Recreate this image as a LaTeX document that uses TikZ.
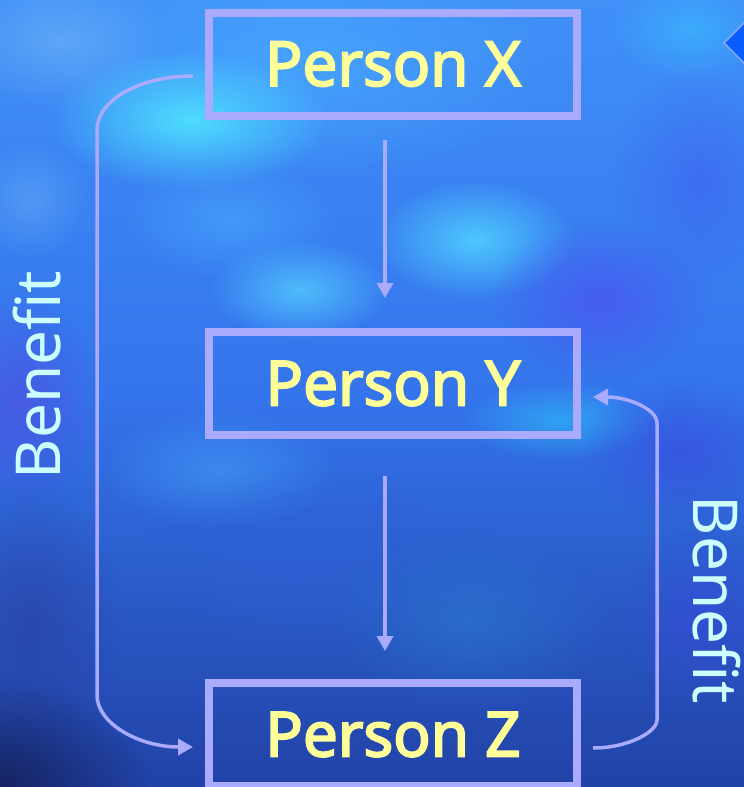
\documentclass[tikz,border=0pt]{standalone}
\usepackage{fontspec}
\setmainfont{Noto Sans}
\newfontfamily\boxfont{Noto Sans}[FakeBold=3]
\usetikzlibrary{arrows.meta,fadings}

\definecolor{lav}{HTML}{AAAAFF}
\definecolor{boxyellow}{HTML}{FFFF99}
\definecolor{labelcyan}{HTML}{CCFFFF}
\definecolor{skytop}{HTML}{4090F8}
\definecolor{skymid}{HTML}{3474EC}
\definecolor{skybot}{HTML}{2142A6}
\definecolor{cyanA}{HTML}{4FE5FF}
\definecolor{blueA}{HTML}{6AB0F8}
\definecolor{cyanB}{HTML}{50D0FF}
\definecolor{cyanC}{HTML}{55CCFF}
\definecolor{violetA}{HTML}{4C50F0}
\definecolor{violetB}{HTML}{5050E0}
\definecolor{blueB}{HTML}{3F60F0}
\definecolor{cyanD}{HTML}{30B8F8}
\definecolor{blueC}{HTML}{3A48E0}
\definecolor{blueD}{HTML}{3060D8}
\definecolor{blueE}{HTML}{2A78D0}
\definecolor{navyA}{HTML}{2A3FA0}
\definecolor{navyB}{HTML}{15205A}
\definecolor{cyanE}{HTML}{3AB8FF}
\definecolor{skyF}{HTML}{48A8FF}
\definecolor{ornline}{HTML}{7FA8FF}
\definecolor{ornfill}{HTML}{0A5CFF}

\tikzfading[name=softglow, inner color=transparent!0, outer color=transparent!100]

\begin{document}
\begin{tikzpicture}[x=1pt,y=-1pt,
  person/.style={draw=lav, line width=8pt, minimum width=368pt,
    minimum height=103pt, inner sep=0pt, text=boxyellow,
    font=\boxfont\fontsize{62}{62}\selectfont},
  flow/.style={draw=lav, line width=3.5pt,
    -{Triangle[width=16pt,length=15pt]}},
  benefit/.style={text=labelcyan, inner sep=0pt, anchor=base,
    font=\fontsize{62}{62}\selectfont},
  glow/.style={fill=#1, path fading=softglow}
]
\useasboundingbox (0,0) rectangle (744,787);

% sky background
\fill[top color=skytop, bottom color=skybot, middle color=skymid]
  (0,0) rectangle (744,787);
\fill[glow=skyF, opacity=0.8] (300,60) ellipse (260 and 120);
\fill[glow=cyanA, opacity=0.9] (190,120) ellipse (140 and 70);
\fill[glow=blueA, opacity=0.7] (60,40) ellipse (110 and 70);
\fill[glow=blueA, opacity=0.5] (30,200) ellipse (60 and 60);
\fill[glow=cyanB, opacity=0.9] (475,240) ellipse (100 and 60);
\fill[glow=cyanC, opacity=0.8] (300,290) ellipse (90 and 50);
\fill[glow=skyF, opacity=0.6] (230,220) ellipse (110 and 60);
\fill[glow=violetA, opacity=0.7] (600,300) ellipse (110 and 80);
\fill[glow=violetB, opacity=0.7] (20,400) ellipse (80 and 110);
\fill[glow=blueB, opacity=0.6] (700,180) ellipse (90 and 110);
\fill[glow=cyanD, opacity=0.7] (560,420) ellipse (100 and 40);
\fill[glow=skyF, opacity=0.5] (220,470) ellipse (120 and 60);
\fill[glow=blueC, opacity=0.6] (680,450) ellipse (100 and 70);
\fill[glow=blueD, opacity=0.5] (300,560) ellipse (160 and 90);
\fill[glow=blueE, opacity=0.6] (470,620) ellipse (140 and 90);
\fill[glow=blueC, opacity=0.5] (700,620) ellipse (80 and 90);
\fill[glow=navyA, opacity=0.6] (30,620) ellipse (90 and 140);
\fill[glow=navyB, opacity=0.9] (0,787) ellipse (150 and 110);
\fill[glow=cyanE, opacity=0.7] (690,30) ellipse (80 and 50);

% slide ornament at the right edge
\draw[draw=ornline, line width=1.5pt, fill=ornfill]
  (724,43) -- (745,22) -- (766,43) -- (745,64) -- cycle;

% the three people
\node[person] (px) at (393,64) {Person X};
\node[person] (py) at (393,383.5) {Person Y};
\node[person] (pz) at (393,734.5) {Person Z};

% chain X -> Y -> Z
\draw[flow, shorten <=20pt, shorten >=30pt]
  ([xshift=-8pt]px.south) -- ([xshift=-8pt]py.north);
\draw[flow, shorten <=37pt, shorten >=28pt]
  ([xshift=-8pt]py.south) -- ([xshift=-8pt]pz.north);

% benefit loop X -> Z on the left
\coordinate (lx) at ([shift={(-12,12)}]px.west);
\coordinate (lz) at ([shift={(-12,12.5)}]pz.west);
\draw[flow]
  (lx) .. controls ([xshift=-53]lx) and (97,100) .. (97,130)
  -- (97,695) .. controls (97,724) and ([xshift=-53]lz) .. (lz);

% benefit loop Z -> Y on the right
\coordinate (rz) at ([shift={(12,13.5)}]pz.east);
\coordinate (ry) at ([shift={(12,13.5)}]py.east);
\draw[flow]
  (rz) .. controls ([xshift=35]rz) and (657,732) .. (657,720)
  -- (657,423) .. controls (657,409) and ([xshift=35]ry) .. (ry);

% labels
\node[benefit, rotate=90] (bl) at (60,375) {Benefit};
\node[benefit, rotate=-90] (br) at (693,600) {Benefit};
\end{tikzpicture}
\end{document}
